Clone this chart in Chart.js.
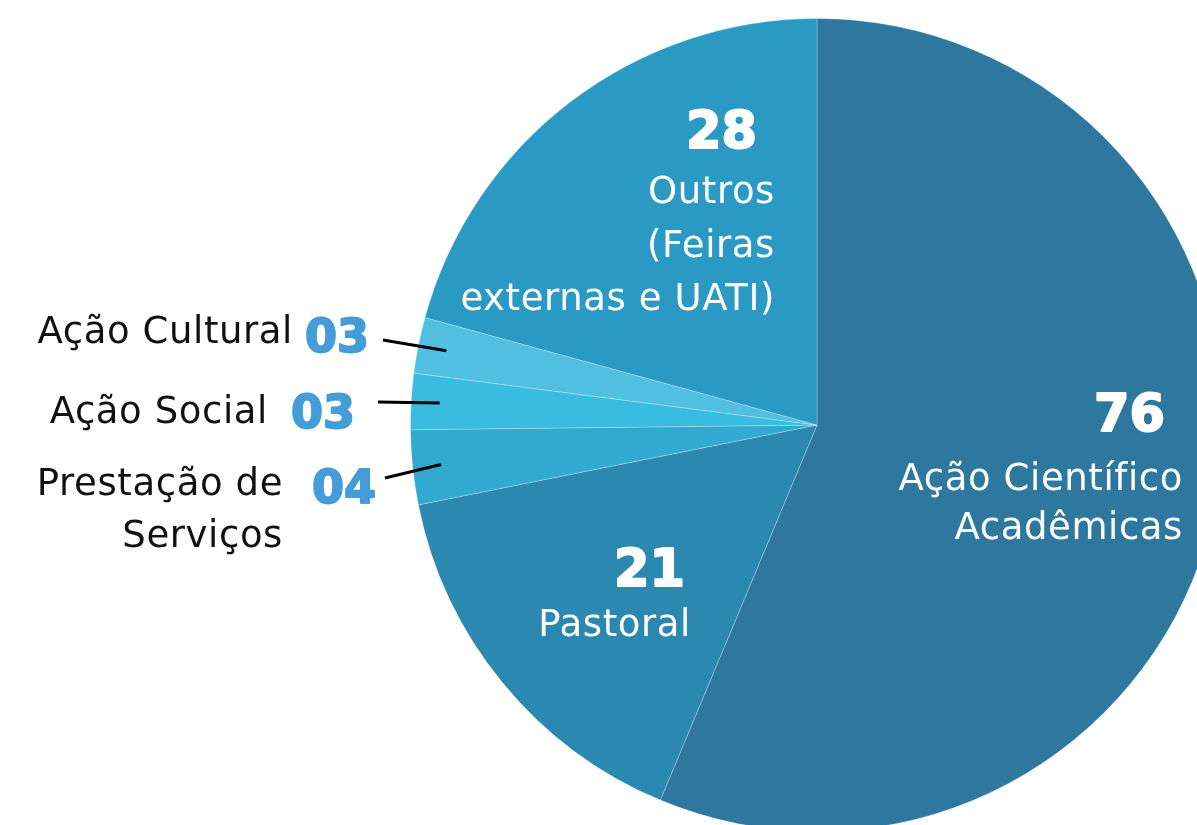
<!DOCTYPE html>
<html>
<head>
<meta charset="utf-8">
<style>
  html, body { margin: 0; padding: 0; background: #fff; overflow: hidden; }
  #wrap { position: absolute; left: 0; top: 0; width: 1240px; height: 850px; }
</style>
</head>
<body>
<div id="wrap"><canvas id="pieChart"></canvas></div>
<script src="https://cdn.jsdelivr.net/npm/chart.js@4.4.0/dist/chart.umd.min.js"></script>
<script>
// categories and values, in clockwise order from 12 o'clock
var categories = [
    ['Ação Científico', 'Acadêmicas'],
    ['Pastoral'],
    ['Prestação de', 'Serviços'],
    ['Ação Social'],
    ['Ação Cultural'],
    ['Outros', '(Feiras', 'externas e UATI)']
];
var values = [76, 21, 4, 3, 3, 28];
var sliceColors = ['#2E78A0', '#2B88B0', '#31A9D0', '#3ABBE0', '#50BFE2', '#2A9AC4'];

// label placement, offsets from the pie centre (px)
// inside: white text in the slice; outside: black text + blue number + leader line
var labelPlacement = [
    { inside: true, numX: 348, numY: 6, textX: 366, textY: [65, 114] },
    { inside: true, numX: -132, numY: 161, textX: -126, textY: [211] },
    { inside: false, numX: -441, numY: 78, textX: -534, textY: [70, 122], lineX: -432, lineY: 53 },
    { inside: false, numX: -462, numY: 3, textX: -549, textY: [-2], lineX: -439, lineY: -23 },
    { inside: false, numX: -448, numY: -73, textX: -524, textY: [-82], lineX: -434, lineY: -85 }, 
    { inside: true, numX: -60, numY: -277, textX: -42, textY: [-222, -168, -115] }
];

var textFont = '37px "DejaVu Sans", "Noto Sans", sans-serif';
var numFontIn = 'bold 51px "DejaVu Sans", "Noto Sans", sans-serif';
var numFontOut = 'bold 46px "DejaVu Sans", "Noto Sans", sans-serif';

var sliceLabels = {
    id: 'sliceLabels',
    afterDatasetsDraw: function(chart) {
        var ctx = chart.ctx;
        var meta = chart.getDatasetMeta(0);
        var cx = meta.data[0].x, cy = meta.data[0].y, R = meta.data[0].outerRadius;
        ctx.save();
        ctx.textAlign = 'right';
        ctx.textBaseline = 'alphabetic';
        ctx.lineJoin = 'round';
        meta.data.forEach(function(arc, i) {
            var p = labelPlacement[i];
            var num = String(values[i]).padStart(2, '0');
            var col = p.inside ? '#ffffff' : '#449DD8';
            ctx.letterSpacing = '0px';
            ctx.font = p.inside ? numFontIn : numFontOut;
            ctx.fillStyle = col;
            ctx.strokeStyle = col;
            ctx.lineWidth = 2;
            ctx.fillText(num, cx + p.numX, cy + p.numY);
            ctx.strokeText(num, cx + p.numX, cy + p.numY);

            ctx.font = textFont;
            ctx.letterSpacing = '0.6px';
            ctx.fillStyle = p.inside ? '#ffffff' : '#111111';
            categories[i].forEach(function(line, k) {
                ctx.fillText(line, cx + p.textX, cy + p.textY[k]);
            });

            if (!p.inside) {
                var mid = (arc.startAngle + arc.endAngle) / 2;
                var ex = cx + Math.cos(mid) * R * 0.93;
                var ey = cy + Math.sin(mid) * R * 0.93;
                ctx.beginPath();
                ctx.moveTo(cx + p.lineX, cy + p.lineY);
                ctx.lineTo(ex, ey);
                ctx.lineWidth = 3;
                ctx.strokeStyle = '#000000';
                ctx.stroke();
            }
        });
        ctx.restore();
    }
};

var ctx = document.getElementById('pieChart').getContext('2d');
var pieChart = new Chart(ctx, {
    type: 'pie',
    data: {
        labels: categories.map(function(c) { return c.join(' '); }),
        datasets: [{
            data: values,
            backgroundColor: sliceColors,
            borderColor: 'rgba(255,255,255,0.25)',
            borderWidth: 1
        }]
    },
    options: {
        responsive: true,
        maintainAspectRatio: false,
        animation: false,
        layout: { padding: { left: 410, right: 16, top: 18, bottom: 18 } },
        plugins: {
            legend: { display: false },
            tooltip: { enabled: false }
        }
    },
    plugins: [sliceLabels]
});
</script>
</body>
</html>
